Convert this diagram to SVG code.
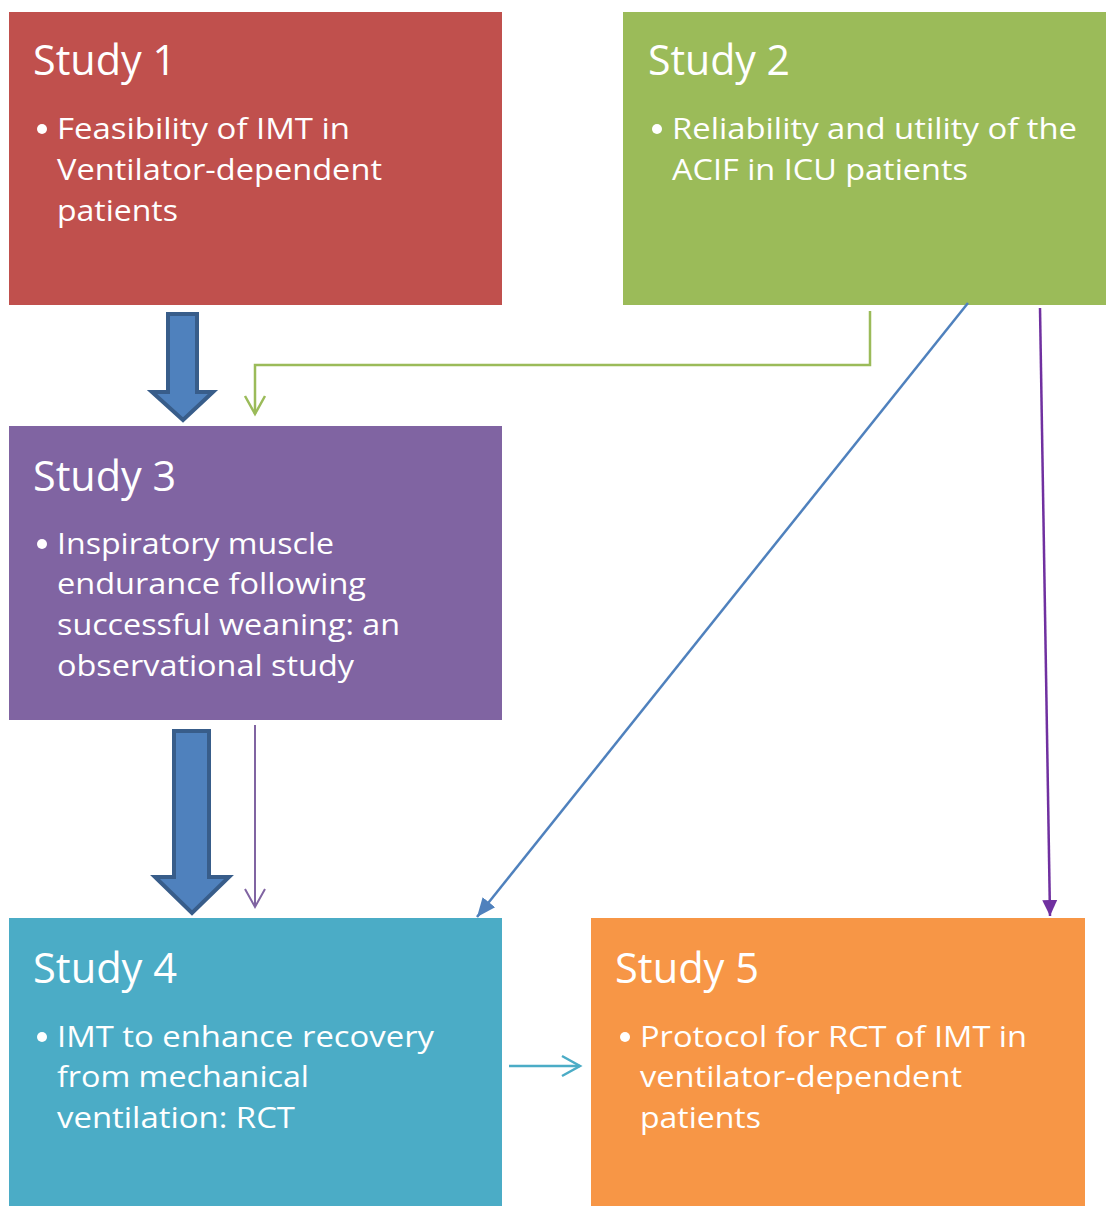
<svg xmlns="http://www.w3.org/2000/svg" width="1106" height="1206" viewBox="0 0 1106 1206">
<style>
.title{font-family:"Open Sans","Noto Sans",sans-serif;font-size:42px;fill:#fff}
.body{font-family:"Open Sans","Noto Sans",sans-serif;font-size:29.5px;fill:#fff}
.dot{fill:#fff}
.block{fill:#4F81BD;stroke:#385D8A;stroke-width:4;stroke-linejoin:miter}
.conn{fill:none}
</style>
<defs>
<marker id="vGreen" markerUnits="userSpaceOnUse" markerWidth="22" markerHeight="24" viewBox="0 0 22 24" refX="19" refY="12" orient="auto">
<path d="M1,2 L19,12 L1,22" fill="none" stroke="#9BBB59" stroke-width="2.5"/>
</marker>
<marker id="vPurple" markerUnits="userSpaceOnUse" markerWidth="22" markerHeight="24" viewBox="0 0 22 24" refX="19" refY="12" orient="auto">
<path d="M1,2 L19,12 L1,22" fill="none" stroke="#8064A2" stroke-width="2"/>
</marker>
<marker id="vTeal" markerUnits="userSpaceOnUse" markerWidth="22" markerHeight="24" viewBox="0 0 22 24" refX="19" refY="12" orient="auto">
<path d="M1,2 L19,12 L1,22" fill="none" stroke="#4BACC6" stroke-width="2.5"/>
</marker>
<marker id="fBlue" markerUnits="userSpaceOnUse" markerWidth="20" markerHeight="18" viewBox="0 0 20 18" refX="19" refY="9" orient="auto">
<path d="M0,1 L19,9 L0,17 z" fill="#4F81BD"/>
</marker>
<marker id="fViolet" markerUnits="userSpaceOnUse" markerWidth="18" markerHeight="18" viewBox="0 0 18 18" refX="16" refY="9" orient="auto">
<path d="M0,1.5 L16,9 L0,16.5 z" fill="#7030A0"/>
</marker>
</defs>

<g id="study1">
<rect x="9" y="12" width="493" height="293" fill="#C0504D"/>
<text class="title" x="33" y="75" textLength="143" lengthAdjust="spacingAndGlyphs">Study 1</text>
<circle class="dot" cx="42" cy="129" r="5"/>
<text class="body" x="57" y="139" textLength="293" lengthAdjust="spacingAndGlyphs">Feasibility of IMT in</text>
<text class="body" x="57" y="180" textLength="325" lengthAdjust="spacingAndGlyphs">Ventilator-dependent</text>
<text class="body" x="57" y="221" textLength="121" lengthAdjust="spacingAndGlyphs">patients</text>
</g>

<g id="study2">
<rect x="623" y="12" width="483" height="293" fill="#9BBB59"/>
<text class="title" x="648" y="75" textLength="142" lengthAdjust="spacingAndGlyphs">Study 2</text>
<circle class="dot" cx="657" cy="129" r="5"/>
<text class="body" x="672" y="139" textLength="405" lengthAdjust="spacingAndGlyphs">Reliability and utility of the</text>
<text class="body" x="672" y="180" textLength="296" lengthAdjust="spacingAndGlyphs">ACIF in ICU patients</text>
</g>

<g id="study3">
<rect x="9" y="426" width="493" height="294" fill="#8064A2"/>
<text class="title" x="33" y="491" textLength="143" lengthAdjust="spacingAndGlyphs">Study 3</text>
<circle class="dot" cx="42" cy="544" r="5"/>
<text class="body" x="57" y="554" textLength="277" lengthAdjust="spacingAndGlyphs">Inspiratory muscle</text>
<text class="body" x="57" y="594" textLength="309" lengthAdjust="spacingAndGlyphs">endurance following</text>
<text class="body" x="57" y="635" textLength="343" lengthAdjust="spacingAndGlyphs">successful weaning: an</text>
<text class="body" x="57" y="676" textLength="297" lengthAdjust="spacingAndGlyphs">observational study</text>
</g>

<g id="study4">
<rect x="9" y="918" width="493" height="288" fill="#4BACC6"/>
<text class="title" x="33" y="983" textLength="144" lengthAdjust="spacingAndGlyphs">Study 4</text>
<circle class="dot" cx="42" cy="1037" r="5"/>
<text class="body" x="57" y="1047" textLength="377" lengthAdjust="spacingAndGlyphs">IMT to enhance recovery</text>
<text class="body" x="57" y="1087" textLength="252" lengthAdjust="spacingAndGlyphs">from mechanical</text>
<text class="body" x="57" y="1128" textLength="238" lengthAdjust="spacingAndGlyphs">ventilation: RCT</text>
</g>

<g id="study5">
<rect x="591" y="918" width="494" height="288" fill="#F79646"/>
<text class="title" x="615" y="983" textLength="144" lengthAdjust="spacingAndGlyphs">Study 5</text>
<circle class="dot" cx="625" cy="1037" r="5"/>
<text class="body" x="640" y="1047" textLength="387" lengthAdjust="spacingAndGlyphs">Protocol for RCT of IMT in</text>
<text class="body" x="640" y="1087" textLength="322" lengthAdjust="spacingAndGlyphs">ventilator-dependent</text>
<text class="body" x="640" y="1128" textLength="121" lengthAdjust="spacingAndGlyphs">patients</text>
</g>

<g id="connectors">
<polygon class="block" points="168,314 197,314 197,392 213,392 183,420 152,392 168,392"/>
<polygon class="block" points="174,731 209,731 209,877 229,877 192,913 155,877 174,877"/>
<path class="conn" d="M870,311 V365 H255 V414" stroke="#9BBB59" stroke-width="2.5" marker-end="url(#vGreen)"/>
<path class="conn" d="M255,725 V907" stroke="#8064A2" stroke-width="2" marker-end="url(#vPurple)"/>
<path class="conn" d="M968,303 L477,917" stroke="#4F81BD" stroke-width="2.5" marker-end="url(#fBlue)"/>
<path class="conn" d="M1040,308 L1050,916" stroke="#7030A0" stroke-width="2.5" marker-end="url(#fViolet)"/>
<path class="conn" d="M509,1066 H580" stroke="#4BACC6" stroke-width="2.5" marker-end="url(#vTeal)"/>
</g>
</svg>
